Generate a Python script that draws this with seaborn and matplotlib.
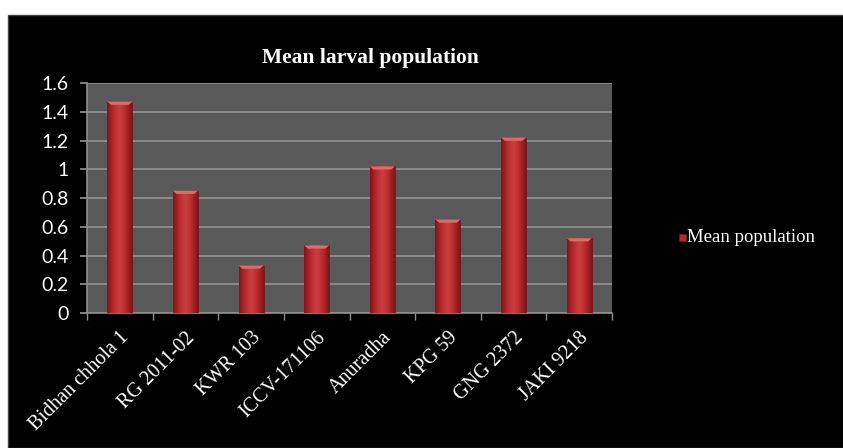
import numpy as np
import pandas as pd
import matplotlib
matplotlib.use("Agg")
import matplotlib.pyplot as plt
import seaborn as sns
from matplotlib.patches import Rectangle
from matplotlib.colors import LinearSegmentedColormap

varieties = ["Bidhan chhola 1", "RG 2011-02", "KWR 103", "ICCV-171106",
             "Anuradha", "KPG 59", "GNG 2372", "JAKI 9218"]
mean_population = [1.47, 0.85, 0.33, 0.47, 1.02, 0.65, 1.22, 0.52]
y_ticks = [0, 0.2, 0.4, 0.6, 0.8, 1, 1.2, 1.4, 1.6]
y_tick_labels = ["0", "0.2", "0.4", "0.6", "0.8", "1", "1.2", "1.4", "1.6"]

df = pd.DataFrame({"Variety": varieties, "Mean population": mean_population})

sns.set_theme(style="dark")
serif = ["Liberation Serif", "DejaVu Serif"]
sans = ["Lato", "DejaVu Sans"]

fig = plt.figure(figsize=(8.43, 4.48), dpi=100, facecolor="white")
# black chart canvas
fig.patches.append(Rectangle((8 / 843, 0), 1, (448 - 15) / 448,
                             transform=fig.transFigure, facecolor="black",
                             edgecolor="#444444", lw=1, zorder=-10))

ax = fig.add_axes([87 / 843, (448 - 313) / 448, 525 / 843, 230 / 448])
ax.set_zorder(2)
ax.set_facecolor("#595959")

bar_color = "#b52a2d"
sns.barplot(data=df, x="Variety", y="Mean population", color=bar_color,
            width=0.38, saturation=1, ax=ax, zorder=3, edgecolor="#7a1416",
            linewidth=0.6)

# cylinder-like shading over each bar
cmap = LinearSegmentedColormap.from_list(
    "shade", ["#7e1517", "#b8292c", "#cc3f41", "#b8292c", "#7e1517"])
grad = np.linspace(0, 1, 64).reshape(1, -1)
for p in list(ax.patches):
    x0, y0 = p.get_x(), p.get_y()
    w, h = p.get_width(), p.get_height()
    im = ax.imshow(grad, cmap=cmap, aspect="auto", zorder=4,
                   extent=[x0, x0 + w, y0, y0 + h], interpolation="bicubic")
    im.set_clip_path(p)
    # bevelled top cap
    cap = 0.022
    ax.fill([x0, x0 + w, x0 + w * 0.85, x0 + w * 0.15],
            [h, h, h - cap, h - cap], color="#e06a6a", zorder=5, lw=0)

ax.set_xlim(-0.5, len(varieties) - 0.5)
ax.set_ylim(0, 1.6)
ax.set_yticks(y_ticks)
ax.set_yticklabels(y_tick_labels, fontsize=14, color="white", family=sans)
ax.grid(axis="y", color="#8f8f8f", lw=1.3, zorder=1)
ax.grid(axis="x", visible=False)

ax.set_xticks(range(len(varieties)))
ax.set_xticklabels(varieties, rotation=45, ha="right", rotation_mode="anchor",
                   fontsize=14.5, color="white", family=serif)
ax.tick_params(axis="x", which="major", length=0, pad=11)
ax.set_xticks(np.arange(-0.5, len(varieties), 1), minor=True)
ax.tick_params(axis="x", which="minor", length=5, color="#8f8f8f",
               direction="out", bottom=True)
ax.tick_params(axis="y", length=5, color="#8f8f8f", direction="out", left=True,
               pad=8)
ax.set_xlabel("")
ax.set_ylabel("")
for side in ["top", "right"]:
    ax.spines[side].set_visible(False)
for side in ["left", "bottom"]:
    ax.spines[side].set_visible(True)
    ax.spines[side].set_color("#8f8f8f")
    ax.spines[side].set_linewidth(1.2)

fig.text(370 / 843, 1 - 58 / 448, "Mean larval population", ha="center",
         va="center", fontsize=15.5, fontweight="bold", color="white",
         family=serif)

# legend
fig.patches.append(Rectangle((679 / 843, 1 - 241 / 448), 7 / 843, 7 / 448,
                             transform=fig.transFigure, facecolor=bar_color,
                             edgecolor="#7a1416", lw=0.5, zorder=5))
fig.text(687 / 843, 1 - 237 / 448, "Mean population", ha="left", va="center",
         fontsize=13.5, color="white", family=serif)

fig.savefig("out.png", dpi=100, facecolor="white")
